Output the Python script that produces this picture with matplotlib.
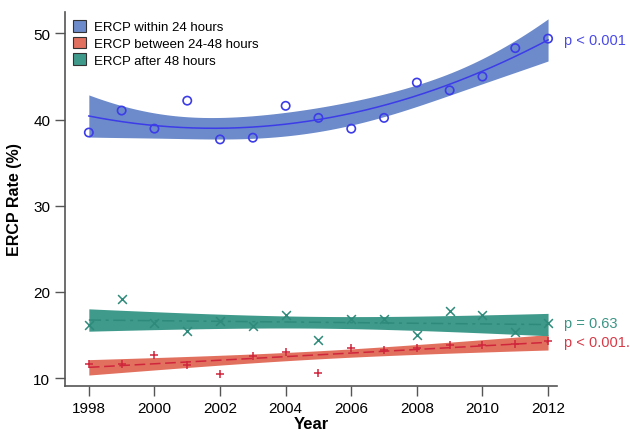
import numpy as np
import matplotlib
matplotlib.use("Agg")
import matplotlib.pyplot as plt
from matplotlib.patches import Patch

years = list(range(1998, 2013))
within24 = [38.5, 41.05, 38.95, 42.2, 37.7, 37.9, 41.6, 40.2, 38.95, 40.2, 44.3, 43.4, 45.0, 48.3, 49.4]
between24_48 = [11.65, 11.65, 12.7, 11.5, 10.5, 12.6, 13.0, 10.6, 13.5, 13.3, 13.5, 13.85, 13.8, 13.95, 14.3]
after48 = [16.1, 19.2, 16.4, 15.45, 16.6, 16.05, 17.3, 14.4, 16.85, 16.8, 15.0, 17.8, 17.3, 15.4, 16.4]
labels = ["ERCP within 24 hours", "ERCP between 24-48 hours", "ERCP after 48 hours"]
pvals = ["p < 0.001", "p < 0.001.", "p = 0.63"]

plt.rcParams['font.family'] = ['Liberation Sans', 'DejaVu Sans']

fig = plt.figure(figsize=(6.3, 4.31), dpi=100)
ax = fig.add_axes([0.103, 0.102, 0.781, 0.868])

x = np.array(years, dtype=float)
xs = np.linspace(x.min(), x.max(), 200)


def fit_ci(xv, yv, deg, tval):
    xc = xv - xv.mean()
    X = np.vander(xc, deg + 1)
    beta, res, rk, sv = np.linalg.lstsq(X, yv, rcond=None)
    resid = yv - X @ beta
    dof = len(yv) - (deg + 1)
    s2 = resid @ resid / dof
    cov = s2 * np.linalg.inv(X.T @ X)
    Xs = np.vander(xs - xv.mean(), deg + 1)
    pred = Xs @ beta
    se = np.sqrt(np.einsum('ij,jk,ik->i', Xs, cov, Xs))
    return pred, pred - tval * se, pred + tval * se


series = [
    (np.array(within24), 2, 2.179, '#6d8bca', '#3c3ce8', 'o', '-', labels[0], pvals[0], '#4a4ae8'),
    (np.array(between24_48), 1, 2.160, '#e2705f', '#d0263c', '+', (0, (7, 3)), labels[1], pvals[1], '#d83a48'),
    (np.array(after48), 1, 2.160, '#3f9a8b', '#2e8a7a', 'x', (0, (8, 3, 2, 3)), labels[2], pvals[2], '#3a9585'),
]

handles = []
for yv, deg, tval, band, mc, mk, ls, lab, pv, pc in series:
    pred, lo, hi = fit_ci(x, yv, deg, tval)
    ax.fill_between(xs, lo, hi, color=band, lw=0, zorder=1)
    ax.plot(xs, pred, color=mc, lw=1.1, ls=ls, zorder=2)
    if mk == 'o':
        ax.scatter(x, yv, s=36, facecolors='none', edgecolors=mc, linewidths=1.2, zorder=3)
    else:
        ax.scatter(x, yv, s=40, marker=mk, color=mc, linewidths=1.1, zorder=3)
    handles.append(Patch(facecolor=band, edgecolor='#333333', linewidth=0.8, label=lab))
    ypos = pred[-1]
    if pv == "p = 0.63":
        ypos = yv[-1]
    ax.text(2012.5, ypos, pv, color=pc, fontsize=10.5, va='center', ha='left', clip_on=False)

ax.set_xlim(1997.27, 2012.27)
ax.set_ylim(9.07, 52.5)
ax.set_xticks(range(1998, 2013, 2))
ax.set_yticks([10, 20, 30, 40, 50])
ax.tick_params(axis='both', labelsize=11, length=7, width=1, color='#555555', direction='out')
for s in ['top', 'right']:
    ax.spines[s].set_visible(False)
for s in ['left', 'bottom']:
    ax.spines[s].set_color('#555555')
    ax.spines[s].set_linewidth(1.2)

ax.set_xlabel("Year", fontsize=12, fontweight='bold', labelpad=1)
ax.set_ylabel("ERCP Rate (%)", fontsize=11.5, fontweight='bold', labelpad=8)

leg = ax.legend(handles=handles, loc='upper left', bbox_to_anchor=(0.0, 1.0), frameon=False,
                fontsize=9.5, handlelength=1.0, handleheight=1.0, handletextpad=0.6,
                labelspacing=0.25, borderaxespad=0.2)

fig.savefig("out.png", dpi=100)
